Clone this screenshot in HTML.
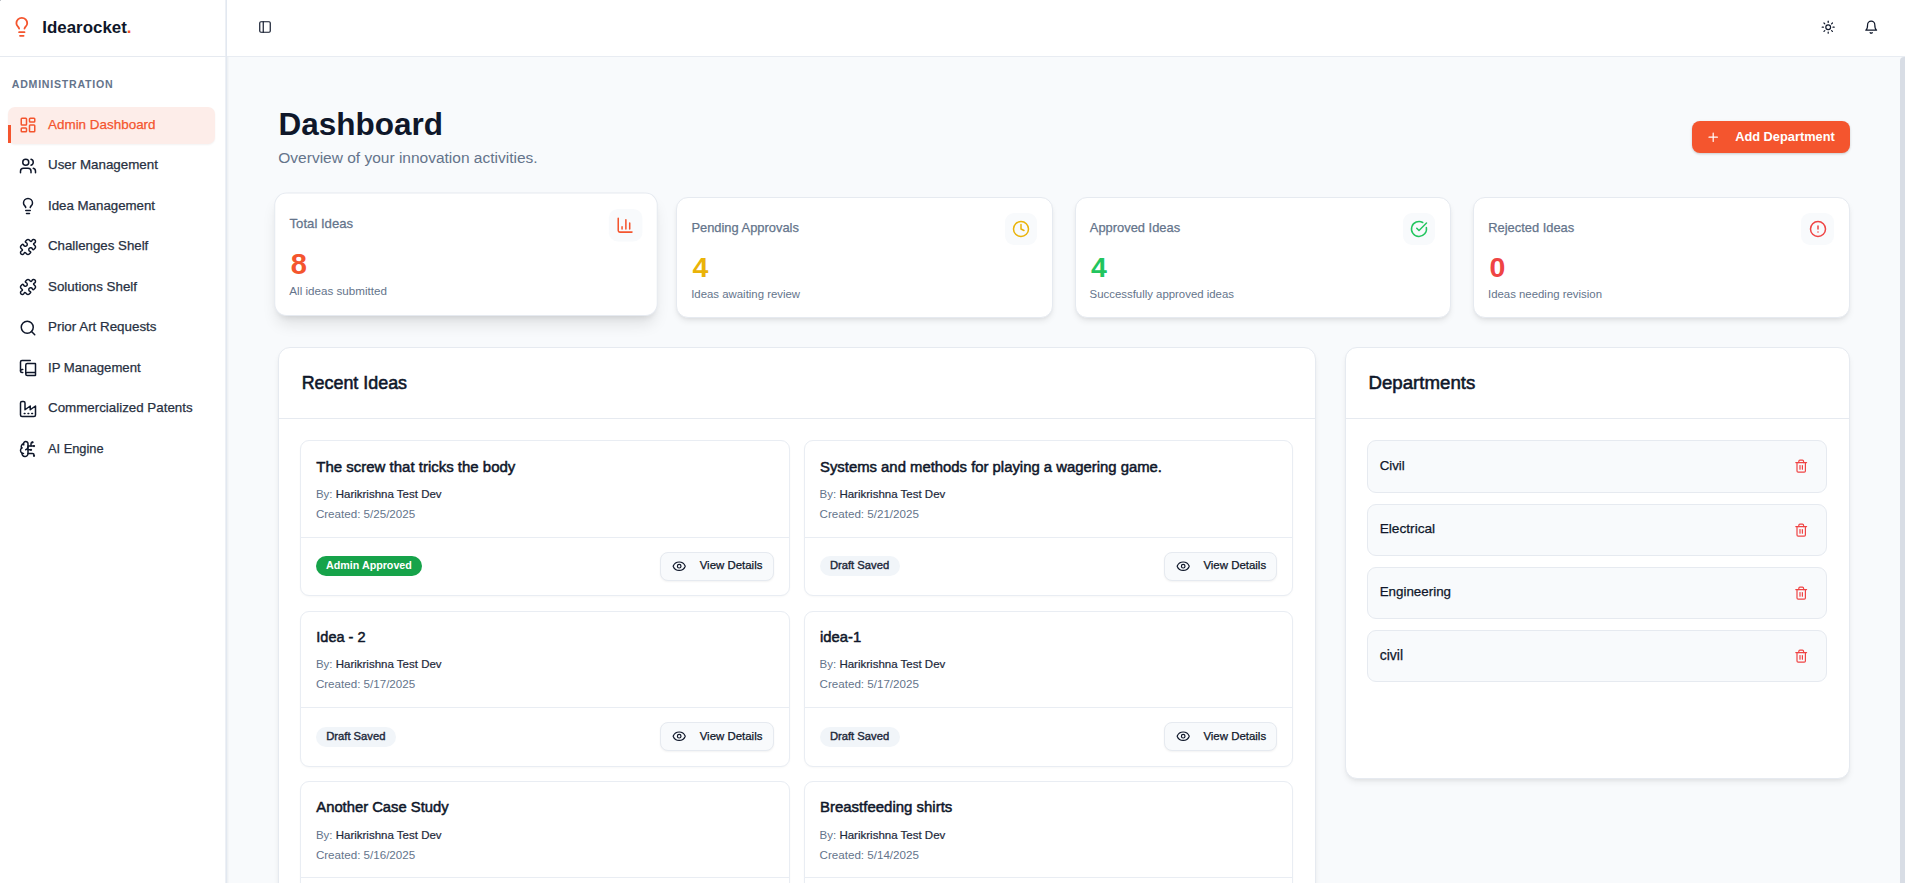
<!DOCTYPE html>
<html><head><meta charset="utf-8"><style>
html,body{margin:0;padding:0;width:1905px;height:883px;overflow:hidden;background:#f8fafc;}
body{position:relative;font-family:"Liberation Sans",sans-serif;}
.t{position:absolute;white-space:nowrap;}
.b{position:absolute;}
.ic{position:absolute;overflow:visible;}
.card{position:absolute;background:#fff;border:1px solid #e6eaf0;border-radius:12px;box-sizing:border-box;}
</style></head><body>
<div class="b" style="left:0.00px;top:0.00px;width:1905.00px;height:883.00px;background:#f8fafc;"></div><div class="b" style="left:226.00px;top:0.00px;width:1679.00px;height:56.00px;background:#fff;"></div><div class="b" style="left:0.00px;top:56.00px;width:1905.00px;height:1.00px;background:#e8ecf2;"></div><div class="b" style="left:0.00px;top:0.00px;width:226.00px;height:883.00px;background:#fff;"></div><div class="b" style="left:225.00px;top:0.00px;width:1.00px;height:883.00px;background:#edf0f5;"></div><div class="b" style="left:226.00px;top:0.00px;width:1.00px;height:883.00px;background:#e2e8f0;"></div><div class="b" style="left:227.00px;top:57.00px;width:1.00px;height:826.00px;background:#eef1f4;"></div><div class="b" style="left:228.00px;top:57.00px;width:1.00px;height:826.00px;background:#f4f6f8;"></div><div class="b" style="left:0.00px;top:56.00px;width:226.00px;height:1.00px;background:#e6eaf0;"></div><div class="b" style="left:0.00px;top:0.00px;width:1.00px;height:1.00px;background:#bfc3c9;"></div><div class="b" style="left:1900.00px;top:57.00px;width:5.00px;height:826.00px;background:#d8dde5;border-top-left-radius:4px;"></div><svg class="ic" style="left:10.80px;top:16.00px;width:21.6px;height:21.6px;" viewBox="0 0 24 24" fill="none" stroke="#f4552e" stroke-width="2" stroke-linecap="round" stroke-linejoin="round"><path d="M15 14c.2-1 .7-1.7 1.5-2.5 1-.9 1.5-2.2 1.5-3.5A6 6 0 0 0 6 8c0 1 .2 2.2 1.5 3.5.7.7 1.3 1.5 1.5 2.5"/><path d="M9 18h6"/><path d="M10 22h4"/></svg><div class="t" style="left:42.30px;top:20.09px;font-size:16.900px;line-height:16.900px;font-weight:700;color:#0f172a;">Idearocket<span style="color:#f4552e">.</span></div><div class="t" style="left:11.80px;top:79.13px;font-size:10.600px;line-height:10.600px;font-weight:700;color:#64748b;letter-spacing:0.75px;">ADMINISTRATION</div><div class="b" style="left:8.00px;top:107.00px;width:207.00px;height:36.50px;background:#fdede9;border-radius:7px;box-shadow:0 1px 2px rgba(0,0,0,.05);"></div><div class="b" style="left:8.00px;top:125.00px;width:3.00px;height:18.00px;background:#f4552e;border-radius:0 0 0 0;"></div><svg class="ic" style="left:19.00px;top:116.00px;width:18px;height:18px;" viewBox="0 0 24 24" fill="none" stroke="#f4552e" stroke-width="2" stroke-linecap="round" stroke-linejoin="round"><rect width="7" height="9" x="3" y="3" rx="1"/><rect width="7" height="5" x="14" y="3" rx="1"/><rect width="7" height="9" x="14" y="12" rx="1"/><rect width="7" height="5" x="3" y="16" rx="1"/></svg><div class="t" style="left:48.00px;top:118.21px;font-size:13.456px;line-height:13.456px;color:#f4552e;-webkit-text-stroke:0.25px currentColor;">Admin Dashboard</div><svg class="ic" style="left:19.00px;top:156.50px;width:18px;height:18px;" viewBox="0 0 24 24" fill="none" stroke="#0f172a" stroke-width="2" stroke-linecap="round" stroke-linejoin="round"><path d="M16 21v-2a4 4 0 0 0-4-4H6a4 4 0 0 0-4 4v2"/><circle cx="9" cy="7" r="4"/><path d="M22 21v-2a4 4 0 0 0-3-3.87"/><path d="M16 3.13a4 4 0 0 1 0 7.75"/></svg><div class="t" style="left:48.00px;top:158.28px;font-size:13.372px;line-height:13.372px;color:#283142;-webkit-text-stroke:0.25px currentColor;">User Management</div><svg class="ic" style="left:19.00px;top:197.00px;width:18px;height:18px;" viewBox="0 0 24 24" fill="none" stroke="#0f172a" stroke-width="2" stroke-linecap="round" stroke-linejoin="round"><path d="M15 14c.2-1 .7-1.7 1.5-2.5 1-.9 1.5-2.2 1.5-3.5A6 6 0 0 0 6 8c0 1 .2 2.2 1.5 3.5.7.7 1.3 1.5 1.5 2.5"/><path d="M9 18h6"/><path d="M10 22h4"/></svg><div class="t" style="left:48.00px;top:199.34px;font-size:13.299px;line-height:13.299px;color:#283142;-webkit-text-stroke:0.25px currentColor;">Idea Management</div><svg class="ic" style="left:19.00px;top:237.50px;width:18px;height:18px;" viewBox="0 0 24 24" fill="none" stroke="#0f172a" stroke-width="2" stroke-linecap="round" stroke-linejoin="round"><path d="M19.439 7.85c-.049.322.059.648.289.878l1.568 1.568c.47.47.706 1.087.706 1.704s-.235 1.233-.706 1.704l-1.611 1.611a.98.98 0 0 1-.837.276c-.47-.07-.802-.48-.968-.925a2.501 2.501 0 1 0-3.214 3.214c.446.166.855.497.925.968a.979.979 0 0 1-.276.837l-1.61 1.61a2.404 2.404 0 0 1-1.705.707 2.402 2.402 0 0 1-1.704-.706l-1.568-1.568a1.026 1.026 0 0 0-.877-.29c-.493.074-.84.504-1.02.968a2.5 2.5 0 1 1-3.237-3.237c.464-.18.894-.527.967-1.02a1.026 1.026 0 0 0-.289-.877l-1.568-1.568A2.402 2.402 0 0 1 1.998 12c0-.617.236-1.234.706-1.704L4.23 8.77c.24-.24.581-.353.917-.303.515.077.877.528 1.073 1.01a2.5 2.5 0 1 0 3.259-3.259c-.482-.196-.933-.558-1.01-1.073-.05-.336.062-.676.303-.917l1.525-1.525A2.402 2.402 0 0 1 12 1.998c.617 0 1.234.236 1.704.706l1.568 1.568c.23.23.556.338.877.29.493-.074.84-.504 1.02-.968a2.5 2.5 0 1 1 3.237 3.237c-.464.18-.894.527-.967 1.02Z"/></svg><div class="t" style="left:48.00px;top:239.46px;font-size:13.275px;line-height:13.275px;color:#283142;-webkit-text-stroke:0.25px currentColor;">Challenges Shelf</div><svg class="ic" style="left:19.00px;top:278.00px;width:18px;height:18px;" viewBox="0 0 24 24" fill="none" stroke="#0f172a" stroke-width="2" stroke-linecap="round" stroke-linejoin="round"><path d="M19.439 7.85c-.049.322.059.648.289.878l1.568 1.568c.47.47.706 1.087.706 1.704s-.235 1.233-.706 1.704l-1.611 1.611a.98.98 0 0 1-.837.276c-.47-.07-.802-.48-.968-.925a2.501 2.501 0 1 0-3.214 3.214c.446.166.855.497.925.968a.979.979 0 0 1-.276.837l-1.61 1.61a2.404 2.404 0 0 1-1.705.707 2.402 2.402 0 0 1-1.704-.706l-1.568-1.568a1.026 1.026 0 0 0-.877-.29c-.493.074-.84.504-1.02.968a2.5 2.5 0 1 1-3.237-3.237c.464-.18.894-.527.967-1.02a1.026 1.026 0 0 0-.289-.877l-1.568-1.568A2.402 2.402 0 0 1 1.998 12c0-.617.236-1.234.706-1.704L4.23 8.77c.24-.24.581-.353.917-.303.515.077.877.528 1.073 1.01a2.5 2.5 0 1 0 3.259-3.259c-.482-.196-.933-.558-1.01-1.073-.05-.336.062-.676.303-.917l1.525-1.525A2.402 2.402 0 0 1 12 1.998c.617 0 1.234.236 1.704.706l1.568 1.568c.23.23.556.338.877.29.493-.074.84-.504 1.02-.968a2.5 2.5 0 1 1 3.237 3.237c-.464.18-.894.527-.967 1.02Z"/></svg><div class="t" style="left:48.00px;top:280.30px;font-size:13.352px;line-height:13.352px;color:#283142;-webkit-text-stroke:0.25px currentColor;">Solutions Shelf</div><svg class="ic" style="left:19.00px;top:318.50px;width:18px;height:18px;" viewBox="0 0 24 24" fill="none" stroke="#0f172a" stroke-width="2" stroke-linecap="round" stroke-linejoin="round"><circle cx="11" cy="11" r="8"/><path d="m21 21-4.3-4.3"/></svg><div class="t" style="left:48.00px;top:320.36px;font-size:13.397px;line-height:13.397px;color:#283142;-webkit-text-stroke:0.25px currentColor;">Prior Art Requests</div><svg class="ic" style="left:19.00px;top:359.00px;width:18px;height:18px;" viewBox="0 0 24 24" fill="none" stroke="#0f172a" stroke-width="2" stroke-linecap="round" stroke-linejoin="round"><path d="M2 16V4a2 2 0 0 1 2-2h11"/><path d="M22 18H11a2 2 0 1 0 0 4h10.5a.5.5 0 0 0 .5-.5v-15a.5.5 0 0 0-.5-.5H11a2 2 0 0 0-2 2v12"/><path d="M5 14H4a2 2 0 1 0 0 4h1"/></svg><div class="t" style="left:48.00px;top:361.46px;font-size:13.164px;line-height:13.164px;color:#283142;-webkit-text-stroke:0.25px currentColor;">IP Management</div><svg class="ic" style="left:19.00px;top:399.50px;width:18px;height:18px;" viewBox="0 0 24 24" fill="none" stroke="#0f172a" stroke-width="2" stroke-linecap="round" stroke-linejoin="round"><path d="M2 20a2 2 0 0 0 2 2h16a2 2 0 0 0 2-2V8l-7 5V8l-7 5V4a2 2 0 0 0-2-2H4a2 2 0 0 0-2 2Z"/><path d="M17 18h1"/><path d="M12 18h1"/><path d="M7 18h1"/></svg><div class="t" style="left:48.00px;top:401.40px;font-size:13.352px;line-height:13.352px;color:#283142;-webkit-text-stroke:0.25px currentColor;">Commercialized Patents</div><svg class="ic" style="left:19.00px;top:440.00px;width:18px;height:18px;" viewBox="0 0 24 24" fill="none" stroke="#0f172a" stroke-width="2" stroke-linecap="round" stroke-linejoin="round"><path d="M12 5a3 3 0 1 0-5.997.125 4 4 0 0 0-2.526 5.77 4 4 0 0 0 .556 6.588A4 4 0 1 0 12 18Z"/><path d="M9 13a4.5 4.5 0 0 0 3-4"/><path d="M6.003 5.125A3 3 0 0 0 6.401 6.5"/><path d="M3.477 10.896a4 4 0 0 1 .585-.396"/><path d="M6 18a4 4 0 0 1-1.967-.516"/><path d="M12 13h4"/><path d="M12 18h6a2 2 0 0 1 2 2v1"/><path d="M12 8h8"/><path d="M16 8V5a2 2 0 0 1 2-2"/><circle cx="16" cy="13" r=".5"/><circle cx="18" cy="3" r=".5"/><circle cx="20" cy="21" r=".5"/><circle cx="20" cy="8" r=".5"/></svg><div class="t" style="left:48.00px;top:442.75px;font-size:12.823px;line-height:12.823px;color:#283142;-webkit-text-stroke:0.25px currentColor;">AI Engine</div><svg class="ic" style="left:258.10px;top:20.00px;width:14px;height:14px;" viewBox="0 0 24 24" fill="none" stroke="#0f172a" stroke-width="2" stroke-linecap="round" stroke-linejoin="round"><rect width="18" height="18" x="3" y="3" rx="2"/><path d="M9 3v18"/></svg><svg class="ic" style="left:1820.80px;top:19.80px;width:14.4px;height:14.4px;" viewBox="0 0 24 24" fill="none" stroke="#0f172a" stroke-width="2" stroke-linecap="round" stroke-linejoin="round"><circle cx="12" cy="12" r="4"/><path d="M12 2v2"/><path d="M12 20v2"/><path d="m4.93 4.93 1.41 1.41"/><path d="m17.66 17.66 1.41 1.41"/><path d="M2 12h2"/><path d="M20 12h2"/><path d="m6.34 17.66-1.41 1.41"/><path d="m19.07 4.93-1.41 1.41"/></svg><svg class="ic" style="left:1863.90px;top:19.80px;width:14.4px;height:14.4px;" viewBox="0 0 24 24" fill="none" stroke="#0f172a" stroke-width="2" stroke-linecap="round" stroke-linejoin="round"><path d="M6 8a6 6 0 0 1 12 0c0 7 3 9 3 9H3s3-2 3-9"/><path d="M10.3 21a1.94 1.94 0 0 0 3.4 0"/></svg><div class="t" style="left:278.40px;top:109.32px;font-size:31.514px;line-height:31.514px;font-weight:700;color:#0f172a;">Dashboard</div><div class="t" style="left:278.30px;top:150.26px;font-size:15.517px;line-height:15.517px;color:#64748b;">Overview of your innovation activities.</div><div class="b" style="left:1692.20px;top:121.10px;width:157.60px;height:32.40px;background:#f4552e;border-radius:8px;box-shadow:0 1px 3px rgba(0,0,0,.12),0 1px 2px rgba(0,0,0,.08);"></div><svg class="ic" style="left:1706.20px;top:130.00px;width:14.4px;height:14.4px;" viewBox="0 0 24 24" fill="none" stroke="#fff" stroke-width="2" stroke-linecap="round" stroke-linejoin="round"><path d="M5 12h14"/><path d="M12 5v14"/></svg><div class="t" style="left:1735.20px;top:130.66px;font-size:12.805px;line-height:12.805px;font-weight:700;color:#fff;">Add Department</div><div class="card" style="left:278px;top:197px;width:376.4px;height:121px;transform:translateY(-3.2px) scale(1.02);box-shadow:0 10px 15px -3px rgba(0,0,0,.10),0 4px 6px -4px rgba(0,0,0,.10);"><div class="t" style="left:14.00px;top:23.98px;font-size:12.900px;line-height:12.900px;color:#64748b;-webkit-text-stroke:0.25px currentColor;">Total Ideas</div><div class="t" style="left:15.20px;top:55.07px;font-size:28.500px;line-height:28.500px;font-weight:700;color:#f4552e;">8</div><div class="t" style="left:13.80px;top:90.45px;font-size:11.400px;line-height:11.400px;color:#64748b;">All ideas submitted</div><div class="b" style="left:327.20px;top:14.80px;width:32.40px;height:32.40px;background:#f8fafc;border-radius:9px;"></div><svg class="ic" style="left:334.40px;top:22.00px;width:18px;height:18px;" viewBox="0 0 24 24" fill="none" stroke="#f4552e" stroke-width="2" stroke-linecap="round" stroke-linejoin="round"><path d="M3 3v16a2 2 0 0 0 2 2h16"/><path d="M18 17V9"/><path d="M13 17V5"/><path d="M8 17v-3"/></svg></div><div class="card" style="left:676.4px;top:197px;width:376.4px;height:121px;box-shadow:0 4px 6px -1px rgba(0,0,0,.08),0 2px 4px -2px rgba(0,0,0,.08);"><div class="t" style="left:14.00px;top:23.98px;font-size:12.900px;line-height:12.900px;color:#64748b;-webkit-text-stroke:0.25px currentColor;">Pending Approvals</div><div class="t" style="left:15.20px;top:55.07px;font-size:28.500px;line-height:28.500px;font-weight:700;color:#eab308;">4</div><div class="t" style="left:13.80px;top:91.05px;font-size:11.400px;line-height:11.400px;color:#64748b;">Ideas awaiting review</div><div class="b" style="left:327.20px;top:14.80px;width:32.40px;height:32.40px;background:#f8fafc;border-radius:9px;"></div><svg class="ic" style="left:334.40px;top:22.00px;width:18px;height:18px;" viewBox="0 0 24 24" fill="none" stroke="#eab308" stroke-width="2" stroke-linecap="round" stroke-linejoin="round"><circle cx="12" cy="12" r="10"/><polyline points="12 6 12 12 16 14"/></svg></div><div class="card" style="left:1074.8px;top:197px;width:376.4px;height:121px;box-shadow:0 4px 6px -1px rgba(0,0,0,.08),0 2px 4px -2px rgba(0,0,0,.08);"><div class="t" style="left:14.00px;top:23.98px;font-size:12.900px;line-height:12.900px;color:#64748b;-webkit-text-stroke:0.25px currentColor;">Approved Ideas</div><div class="t" style="left:15.20px;top:55.07px;font-size:28.500px;line-height:28.500px;font-weight:700;color:#22c55e;">4</div><div class="t" style="left:13.80px;top:91.05px;font-size:11.400px;line-height:11.400px;color:#64748b;">Successfully approved ideas</div><div class="b" style="left:327.20px;top:14.80px;width:32.40px;height:32.40px;background:#f8fafc;border-radius:9px;"></div><svg class="ic" style="left:334.40px;top:22.00px;width:18px;height:18px;" viewBox="0 0 24 24" fill="none" stroke="#22c55e" stroke-width="2" stroke-linecap="round" stroke-linejoin="round"><path d="M21.801 10A10 10 0 1 1 17 3.335"/><path d="m9 11 3 3L22 4"/></svg></div><div class="card" style="left:1473.2px;top:197px;width:376.4px;height:121px;box-shadow:0 4px 6px -1px rgba(0,0,0,.08),0 2px 4px -2px rgba(0,0,0,.08);"><div class="t" style="left:14.00px;top:23.98px;font-size:12.900px;line-height:12.900px;color:#64748b;-webkit-text-stroke:0.25px currentColor;">Rejected Ideas</div><div class="t" style="left:15.20px;top:55.07px;font-size:28.500px;line-height:28.500px;font-weight:700;color:#ef4444;">0</div><div class="t" style="left:13.80px;top:91.05px;font-size:11.400px;line-height:11.400px;color:#64748b;">Ideas needing revision</div><div class="b" style="left:327.20px;top:14.80px;width:32.40px;height:32.40px;background:#f8fafc;border-radius:9px;"></div><svg class="ic" style="left:334.40px;top:22.00px;width:18px;height:18px;" viewBox="0 0 24 24" fill="none" stroke="#ef4444" stroke-width="2" stroke-linecap="round" stroke-linejoin="round"><circle cx="12" cy="12" r="10"/><line x1="12" x2="12" y1="8" y2="12"/><line x1="12" x2="12.01" y1="16" y2="16"/></svg></div><div class="card" style="left:278px;top:347px;width:1038px;height:600px;border-radius:12px;box-shadow:0 4px 6px -1px rgba(0,0,0,.07),0 2px 4px -2px rgba(0,0,0,.07);"></div><div class="b" style="left:278.00px;top:418.00px;width:1038.00px;height:1.00px;background:#e6eaf0;"></div><div class="t" style="left:301.65px;top:374.75px;font-size:17.903px;line-height:17.903px;color:#0f172a;-webkit-text-stroke:0.55px #0f172a;">Recent Ideas</div><div class="card" style="left:1345px;top:347px;width:505px;height:432px;border-radius:12px;box-shadow:0 4px 6px -1px rgba(0,0,0,.07),0 2px 4px -2px rgba(0,0,0,.07);"></div><div class="b" style="left:1345.00px;top:418.00px;width:505.00px;height:1.00px;background:#e6eaf0;"></div><div class="t" style="left:1368.50px;top:373.59px;font-size:18.672px;line-height:18.672px;color:#0f172a;-webkit-text-stroke:0.55px #0f172a;">Departments</div><div class="card" style="left:300.3px;top:440.3px;width:489.3px;height:156.1px;border-radius:9px;border-color:#e9edf3;box-shadow:0 1px 2px rgba(0,0,0,.03);"><div class="t" style="left:15.00px;top:18.11px;font-size:14.997px;line-height:14.997px;color:#0f172a;-webkit-text-stroke:0.5px #0f172a;">The screw that tricks the body</div><div class="t" style="left:14.60px;top:47.37px;font-size:11.500px;line-height:11.500px;color:#64748b;">By: <span style="color:#1e293b;-webkit-text-stroke:0.2px #1e293b">Harikrishna Test Dev</span></div><div class="t" style="left:14.60px;top:67.08px;font-size:11.600px;line-height:11.600px;color:#64748b;">Created: 5/25/2025</div><div class="b" style="left:-1.00px;top:95.70px;width:489.30px;height:1.00px;background:#e9edf3;"></div><div class="b" style="left:14.60px;top:114.80px;width:105.90px;height:19.50px;background:#16a34a;border-radius:10px;"></div><div class="t" style="left:24.80px;top:118.74px;font-size:10.700px;line-height:10.700px;font-weight:700;color:#fff;">Admin Approved</div><div class="b" style="left:359.10px;top:110.70px;width:113.20px;height:29.00px;background:#f8fafc;border:1px solid #e6eaf0;border-radius:8px;box-sizing:border-box;box-shadow:0 1px 2px rgba(0,0,0,.05);"></div><svg class="ic" style="left:370.90px;top:117.60px;width:14.4px;height:14.4px;" viewBox="0 0 24 24" fill="none" stroke="#0f172a" stroke-width="2" stroke-linecap="round" stroke-linejoin="round"><path d="M2.062 12.348a1 1 0 0 1 0-.696 10.75 10.75 0 0 1 19.876 0 1 1 0 0 1 0 .696 10.75 10.75 0 0 1-19.876 0"/><circle cx="12" cy="12" r="3"/></svg><div class="t" style="left:398.40px;top:118.61px;font-size:11.451px;line-height:11.451px;color:#0f172a;-webkit-text-stroke:0.25px currentColor;">View Details</div></div><div class="card" style="left:804px;top:440.3px;width:489.3px;height:156.1px;border-radius:9px;border-color:#e9edf3;box-shadow:0 1px 2px rgba(0,0,0,.03);"><div class="t" style="left:15.00px;top:18.21px;font-size:14.871px;line-height:14.871px;color:#0f172a;-webkit-text-stroke:0.5px #0f172a;">Systems and methods for playing a wagering game.</div><div class="t" style="left:14.60px;top:47.37px;font-size:11.500px;line-height:11.500px;color:#64748b;">By: <span style="color:#1e293b;-webkit-text-stroke:0.2px #1e293b">Harikrishna Test Dev</span></div><div class="t" style="left:14.60px;top:67.08px;font-size:11.600px;line-height:11.600px;color:#64748b;">Created: 5/21/2025</div><div class="b" style="left:-1.00px;top:95.70px;width:489.30px;height:1.00px;background:#e9edf3;"></div><div class="b" style="left:14.60px;top:114.80px;width:80.00px;height:20.00px;background:#f1f5f9;border-radius:10px;"></div><div class="t" style="left:24.90px;top:118.29px;font-size:11.231px;line-height:11.231px;color:#1e293b;-webkit-text-stroke:0.4px #1e293b;">Draft Saved</div><div class="b" style="left:359.10px;top:110.70px;width:113.20px;height:29.00px;background:#f8fafc;border:1px solid #e6eaf0;border-radius:8px;box-sizing:border-box;box-shadow:0 1px 2px rgba(0,0,0,.05);"></div><svg class="ic" style="left:370.90px;top:117.60px;width:14.4px;height:14.4px;" viewBox="0 0 24 24" fill="none" stroke="#0f172a" stroke-width="2" stroke-linecap="round" stroke-linejoin="round"><path d="M2.062 12.348a1 1 0 0 1 0-.696 10.75 10.75 0 0 1 19.876 0 1 1 0 0 1 0 .696 10.75 10.75 0 0 1-19.876 0"/><circle cx="12" cy="12" r="3"/></svg><div class="t" style="left:398.40px;top:118.61px;font-size:11.451px;line-height:11.451px;color:#0f172a;-webkit-text-stroke:0.25px currentColor;">View Details</div></div><div class="card" style="left:300.3px;top:610.8px;width:489.3px;height:156.1px;border-radius:9px;border-color:#e9edf3;box-shadow:0 1px 2px rgba(0,0,0,.03);"><div class="t" style="left:15.00px;top:18.29px;font-size:14.538px;line-height:14.538px;color:#0f172a;-webkit-text-stroke:0.5px #0f172a;">Idea - 2</div><div class="t" style="left:14.60px;top:47.37px;font-size:11.500px;line-height:11.500px;color:#64748b;">By: <span style="color:#1e293b;-webkit-text-stroke:0.2px #1e293b">Harikrishna Test Dev</span></div><div class="t" style="left:14.60px;top:66.58px;font-size:11.600px;line-height:11.600px;color:#64748b;">Created: 5/17/2025</div><div class="b" style="left:-1.00px;top:95.70px;width:489.30px;height:1.00px;background:#e9edf3;"></div><div class="b" style="left:14.60px;top:114.80px;width:80.00px;height:20.00px;background:#f1f5f9;border-radius:10px;"></div><div class="t" style="left:24.90px;top:118.89px;font-size:11.231px;line-height:11.231px;color:#1e293b;-webkit-text-stroke:0.4px #1e293b;">Draft Saved</div><div class="b" style="left:359.10px;top:110.70px;width:113.20px;height:29.00px;background:#f8fafc;border:1px solid #e6eaf0;border-radius:8px;box-sizing:border-box;box-shadow:0 1px 2px rgba(0,0,0,.05);"></div><svg class="ic" style="left:370.90px;top:117.60px;width:14.4px;height:14.4px;" viewBox="0 0 24 24" fill="none" stroke="#0f172a" stroke-width="2" stroke-linecap="round" stroke-linejoin="round"><path d="M2.062 12.348a1 1 0 0 1 0-.696 10.75 10.75 0 0 1 19.876 0 1 1 0 0 1 0 .696 10.75 10.75 0 0 1-19.876 0"/><circle cx="12" cy="12" r="3"/></svg><div class="t" style="left:398.40px;top:119.21px;font-size:11.451px;line-height:11.451px;color:#0f172a;-webkit-text-stroke:0.25px currentColor;">View Details</div></div><div class="card" style="left:804px;top:610.8px;width:489.3px;height:156.1px;border-radius:9px;border-color:#e9edf3;box-shadow:0 1px 2px rgba(0,0,0,.03);"><div class="t" style="left:15.00px;top:18.07px;font-size:14.800px;line-height:14.800px;color:#0f172a;-webkit-text-stroke:0.5px #0f172a;">idea-1</div><div class="t" style="left:14.60px;top:47.37px;font-size:11.500px;line-height:11.500px;color:#64748b;">By: <span style="color:#1e293b;-webkit-text-stroke:0.2px #1e293b">Harikrishna Test Dev</span></div><div class="t" style="left:14.60px;top:66.58px;font-size:11.600px;line-height:11.600px;color:#64748b;">Created: 5/17/2025</div><div class="b" style="left:-1.00px;top:95.70px;width:489.30px;height:1.00px;background:#e9edf3;"></div><div class="b" style="left:14.60px;top:114.80px;width:80.00px;height:20.00px;background:#f1f5f9;border-radius:10px;"></div><div class="t" style="left:24.90px;top:118.89px;font-size:11.231px;line-height:11.231px;color:#1e293b;-webkit-text-stroke:0.4px #1e293b;">Draft Saved</div><div class="b" style="left:359.10px;top:110.70px;width:113.20px;height:29.00px;background:#f8fafc;border:1px solid #e6eaf0;border-radius:8px;box-sizing:border-box;box-shadow:0 1px 2px rgba(0,0,0,.05);"></div><svg class="ic" style="left:370.90px;top:117.60px;width:14.4px;height:14.4px;" viewBox="0 0 24 24" fill="none" stroke="#0f172a" stroke-width="2" stroke-linecap="round" stroke-linejoin="round"><path d="M2.062 12.348a1 1 0 0 1 0-.696 10.75 10.75 0 0 1 19.876 0 1 1 0 0 1 0 .696 10.75 10.75 0 0 1-19.876 0"/><circle cx="12" cy="12" r="3"/></svg><div class="t" style="left:398.40px;top:119.21px;font-size:11.451px;line-height:11.451px;color:#0f172a;-webkit-text-stroke:0.25px currentColor;">View Details</div></div><div class="card" style="left:300.3px;top:781.3px;width:489.3px;height:156.1px;border-radius:9px;border-color:#e9edf3;box-shadow:0 1px 2px rgba(0,0,0,.03);"><div class="t" style="left:15.00px;top:18.08px;font-size:14.793px;line-height:14.793px;color:#0f172a;-webkit-text-stroke:0.5px #0f172a;">Another Case Study</div><div class="t" style="left:14.60px;top:47.37px;font-size:11.500px;line-height:11.500px;color:#64748b;">By: <span style="color:#1e293b;-webkit-text-stroke:0.2px #1e293b">Harikrishna Test Dev</span></div><div class="t" style="left:14.60px;top:67.08px;font-size:11.600px;line-height:11.600px;color:#64748b;">Created: 5/16/2025</div><div class="b" style="left:-1.00px;top:94.90px;width:489.30px;height:1.00px;background:#e9edf3;"></div></div><div class="card" style="left:804px;top:781.3px;width:489.3px;height:156.1px;border-radius:9px;border-color:#e9edf3;box-shadow:0 1px 2px rgba(0,0,0,.03);"><div class="t" style="left:15.00px;top:17.02px;font-size:14.981px;line-height:14.981px;color:#0f172a;-webkit-text-stroke:0.5px #0f172a;">Breastfeeding shirts</div><div class="t" style="left:14.60px;top:47.37px;font-size:11.500px;line-height:11.500px;color:#64748b;">By: <span style="color:#1e293b;-webkit-text-stroke:0.2px #1e293b">Harikrishna Test Dev</span></div><div class="t" style="left:14.60px;top:67.08px;font-size:11.600px;line-height:11.600px;color:#64748b;">Created: 5/14/2025</div><div class="b" style="left:-1.00px;top:94.90px;width:489.30px;height:1.00px;background:#e9edf3;"></div></div><div class="b" style="left:1367.00px;top:440.30px;width:460.00px;height:52.30px;background:#f8fafc;border:1px solid #e6eaf0;border-radius:9px;box-sizing:border-box;"></div><div class="t" style="left:1379.70px;top:458.75px;font-size:13.287px;line-height:13.287px;color:#0f172a;-webkit-text-stroke:0.25px currentColor;">Civil</div><svg class="ic" style="left:1793.80px;top:458.90px;width:14.4px;height:14.4px;" viewBox="0 0 24 24" fill="none" stroke="#ef4444" stroke-width="2" stroke-linecap="round" stroke-linejoin="round"><path d="M3 6h18"/><path d="M19 6v14c0 1-1 2-2 2H7c-1 0-2-1-2-2V6"/><path d="M8 6V4c0-1 1-2 2-2h4c1 0 2 1 2 2v2"/><line x1="10" x2="10" y1="11" y2="17"/><line x1="14" x2="14" y1="11" y2="17"/></svg><div class="b" style="left:1367.00px;top:504.00px;width:460.00px;height:52.30px;background:#f8fafc;border:1px solid #e6eaf0;border-radius:9px;box-sizing:border-box;"></div><div class="t" style="left:1379.70px;top:522.12px;font-size:13.680px;line-height:13.680px;color:#0f172a;-webkit-text-stroke:0.25px currentColor;">Electrical</div><svg class="ic" style="left:1793.80px;top:522.60px;width:14.4px;height:14.4px;" viewBox="0 0 24 24" fill="none" stroke="#ef4444" stroke-width="2" stroke-linecap="round" stroke-linejoin="round"><path d="M3 6h18"/><path d="M19 6v14c0 1-1 2-2 2H7c-1 0-2-1-2-2V6"/><path d="M8 6V4c0-1 1-2 2-2h4c1 0 2 1 2 2v2"/><line x1="10" x2="10" y1="11" y2="17"/><line x1="14" x2="14" y1="11" y2="17"/></svg><div class="b" style="left:1367.00px;top:567.00px;width:460.00px;height:52.30px;background:#f8fafc;border:1px solid #e6eaf0;border-radius:9px;box-sizing:border-box;"></div><div class="t" style="left:1379.70px;top:585.39px;font-size:13.360px;line-height:13.360px;color:#0f172a;-webkit-text-stroke:0.25px currentColor;">Engineering</div><svg class="ic" style="left:1793.80px;top:585.60px;width:14.4px;height:14.4px;" viewBox="0 0 24 24" fill="none" stroke="#ef4444" stroke-width="2" stroke-linecap="round" stroke-linejoin="round"><path d="M3 6h18"/><path d="M19 6v14c0 1-1 2-2 2H7c-1 0-2-1-2-2V6"/><path d="M8 6V4c0-1 1-2 2-2h4c1 0 2 1 2 2v2"/><line x1="10" x2="10" y1="11" y2="17"/><line x1="14" x2="14" y1="11" y2="17"/></svg><div class="b" style="left:1367.00px;top:630.10px;width:460.00px;height:52.30px;background:#f8fafc;border:1px solid #e6eaf0;border-radius:9px;box-sizing:border-box;"></div><div class="t" style="left:1379.70px;top:647.92px;font-size:14.037px;line-height:14.037px;color:#0f172a;-webkit-text-stroke:0.25px currentColor;">civil</div><svg class="ic" style="left:1793.80px;top:648.70px;width:14.4px;height:14.4px;" viewBox="0 0 24 24" fill="none" stroke="#ef4444" stroke-width="2" stroke-linecap="round" stroke-linejoin="round"><path d="M3 6h18"/><path d="M19 6v14c0 1-1 2-2 2H7c-1 0-2-1-2-2V6"/><path d="M8 6V4c0-1 1-2 2-2h4c1 0 2 1 2 2v2"/><line x1="10" x2="10" y1="11" y2="17"/><line x1="14" x2="14" y1="11" y2="17"/></svg>
</body></html>
